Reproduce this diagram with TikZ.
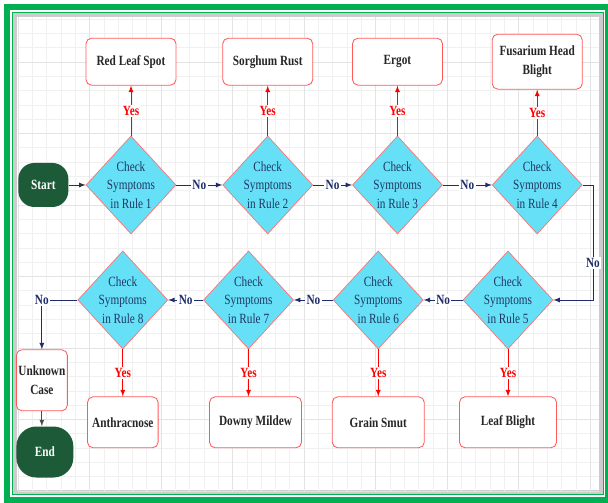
\documentclass[tikz,border=0pt]{standalone}
\usepackage{fontspec}
\setmainfont{Liberation Serif}[FakeStretch=0.8]
\usepackage{tikz}
\usetikzlibrary{shapes.geometric}
\usetikzlibrary{chains}
\usetikzlibrary{positioning}

\definecolor{frameGreen}{HTML}{00B050}
\definecolor{ruleCyan}{HTML}{66E0F7}
\definecolor{ruleText}{HTML}{1F3864}
\definecolor{boxRed}{HTML}{FF5A5A}
\definecolor{termGreen}{HTML}{1C5A38}
\definecolor{noBlue}{HTML}{1F2D6B}

\begin{document}
\begin{tikzpicture}[
	x=0.025cm, y=0.025cm,
	start chain=1 going right,
	node distance=1.15cm,
	ruletest/.style={
		diamond,
		draw=red!55,
		fill=ruleCyan,
		line width=0.5pt,
		minimum width=2.25cm,
		minimum height=2.45cm,
		inner sep=-6pt,
		align=center,
		text=ruleText,
		font=\fontsize{10}{13.3}\selectfont
		},
	disease/.style={
		rectangle,
		rounded corners=4pt,
		draw=boxRed,
		fill=white,
		line width=0.6pt,
		minimum width=2.25cm,
		minimum height=1.175cm,
		align=center,
		text=black!85,
		font=\fontsize{10}{13}\selectfont\bfseries
		},
	terminal/.style={
		rectangle,
		rounded corners=0.4cm,
		fill=termGreen,
		text=white,
		font=\fontsize{10}{12}\selectfont\bfseries
		},
	yesline/.style={draw=red, line width=0.6pt, -latex},
	noline/.style={draw=noBlue, line width=0.6pt, -latex},
	yeslabel/.style={fill=white, text=red, inner sep=1pt, font=\fontsize{10}{12}\selectfont\bfseries},
	nolabel/.style={fill=white, text=noBlue, inner sep=1pt, font=\fontsize{10}{12}\selectfont\bfseries}
]

\useasboundingbox (0,0) rectangle (608,503);
\clip (0,0) rectangle (608,503);

% Frame and grid paper
\fill [white] (0,0) rectangle (608,503);
\draw [frameGreen, line width=0.15cm] (7,495.5) rectangle (608,3);
\draw [frameGreen, line width=0.03cm] (12.5,490.5) rectangle (603,9);
\draw [gray!40, line width=0.1cm] (15,488) rectangle (601,11);
\fill [white] (17,486) rectangle (599,13);
\begin{scope}[shift={(18,12)}]
	\draw [gray!12, step=0.3575cm] (0,0) grid (581,474);
	\draw [gray!22, step=1.7875cm] (0,0) grid (581,474);
\end{scope}

% Rules 1-4
\node [ruletest, on chain=1] (Rule 1) at (131,318) {Check\\Symptoms\\in Rule 1};
\node [ruletest, on chain=1] (Rule 2) {Check\\Symptoms\\in Rule 2};
\node [ruletest, on chain=1, xshift=-0.175cm] (Rule 3) {Check\\Symptoms\\in Rule 3};
\node [ruletest, on chain=1, xshift=0.075cm] (Rule 4) {Check\\Symptoms\\in Rule 4};

% Rules 5-8
\begin{scope}[start chain=2 going left, node distance=0.975cm]
	\node [ruletest, on chain=2] (Rule 5) at (508,203) {Check\\Symptoms\\in Rule 5};
	\node [ruletest, on chain=2] (Rule 6) {Check\\Symptoms\\in Rule 6};
	\node [ruletest, on chain=2] (Rule 7) {Check\\Symptoms\\in Rule 7};
	\node [ruletest, on chain=2, xshift=0.1cm] (Rule 8) {Check\\Symptoms\\in Rule 8};
\end{scope}

% Diseases
\node [disease, above=1.25cm of Rule 1] (Spot) {Red Leaf Spot};
\node [disease, above=1.25cm of Rule 2] (Rust) {Sorghum Rust};
\node [disease, above=1.25cm of Rule 3] (Ergot) {Ergot};
\node [disease, above=1.15cm of Rule 4, minimum height=1.375cm] (Fusarium) {Fusarium Head\\Blight};
\node [disease, below=1.175cm of Rule 5, minimum width=2.425cm, minimum height=1.275cm] (Blight) {Leaf Blight};
\node [disease, below=1.175cm of Rule 6, minimum width=2.3cm, minimum height=1.275cm] (Smut) {Grain Smut};
\node [disease, below=1.175cm of Rule 7, minimum width=2.3cm, minimum height=1.275cm, xshift=0.175cm] (Mildew) {Downy Mildew};
\node [disease, below=1.175cm of Rule 8, minimum width=1.75cm, minimum height=1.275cm] (Anthracnose) {Anthracnose};

% Start, end, unknown
\node [terminal, left=0.425cm of Rule 1, minimum width=1.25cm, minimum height=1.1cm] (Start) {Start};
\node [nolabel, left=0.675cm of Rule 8] (No 8) {No};
\node [disease, below=1.075cm of No 8, minimum width=1.275cm, minimum height=1.525cm, inner xsep=1pt] (Unknown) {Unknown\\Case};
\node [terminal, below=0.375cm of Unknown, minimum width=1.425cm, minimum height=1.275cm, xshift=0.075cm, rounded corners=0.5cm] (End) {End};
\coordinate (Turn) at (593,203);

% Connectors
\draw [black!80, line width=0.6pt, -latex] (Start) -- (Rule 1);
\draw [noline] (Rule 1) -- node [nolabel] {No} (Rule 2);
\draw [noline] (Rule 2) -- node [nolabel] {No} (Rule 3);
\draw [noline] (Rule 3) -- node [nolabel] {No} (Rule 4);
\draw [noline] (Rule 4.east) -| node [nolabel, pos=0.84] {No} (Turn) -- (Rule 5.east);
\draw [noline] (Rule 5) -- node [nolabel] {No} (Rule 6);
\draw [noline] (Rule 6) -- node [nolabel] {No} (Rule 7);
\draw [noline] (Rule 7) -- node [nolabel] {No} (Rule 8);
\draw [noBlue, line width=0.6pt] (Rule 8.west) -- (No 8.east);
\draw [noline] (No 8) -- (Unknown);
\draw [black!70, line width=0.6pt, -latex] (Unknown) -- (Unknown |- End.north);

\draw [yesline] (Rule 1) -- node [yeslabel] {Yes} (Spot);
\draw [yesline] (Rule 2) -- node [yeslabel] {Yes} (Rust);
\draw [yesline] (Rule 3) -- node [yeslabel] {Yes} (Ergot);
\draw [yesline] (Rule 4) -- node [yeslabel] {Yes} (Fusarium);
\draw [yesline] (Rule 5) -- node [yeslabel] {Yes} (Blight);
\draw [yesline] (Rule 6) -- node [yeslabel] {Yes} (Smut);
\draw [yesline] (Rule 7.south) -- node [yeslabel] {Yes} (Rule 7.south |- Mildew.north);
\draw [yesline] (Rule 8) -- node [yeslabel] {Yes} (Anthracnose);

\end{tikzpicture}
\end{document}
